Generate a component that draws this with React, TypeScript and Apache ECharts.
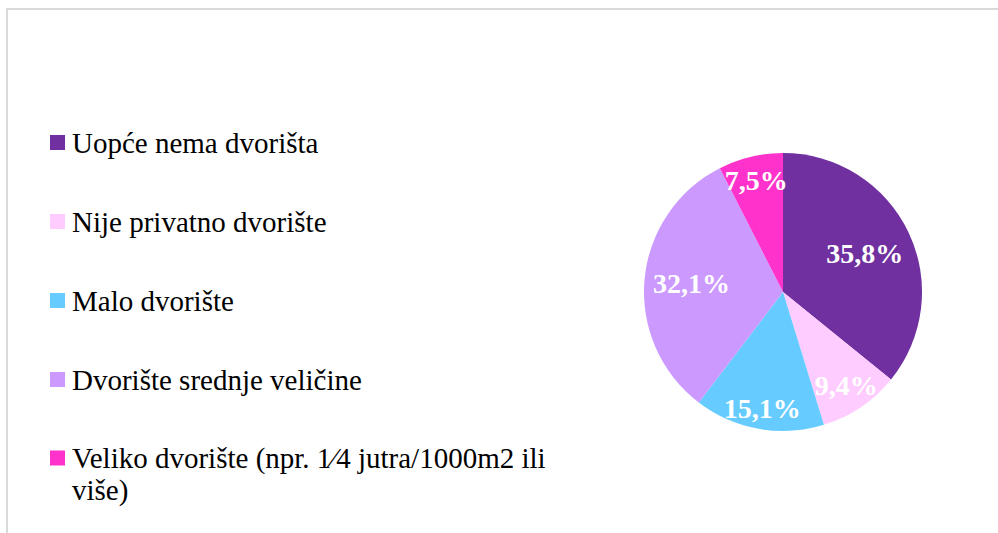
import React, { useEffect, useRef } from 'react';
import * as echarts from 'echarts';

const categories = [
  'Uopće nema dvorišta',
  'Nije privatno dvorište',
  'Malo dvorište',
  'Dvorište srednje veličine',
  'Veliko dvorište (npr. 1⁄4 jutra/1000m2 ili više)',
];
const values = [35.8, 9.4, 15.1, 32.1, 7.5];
const colors = ['#7030A0', '#FFCCFF', '#66CCFF', '#CC99FF', '#FF33CC'];
// radial position of each slice label, as a fraction of the radius
const labelRadius = [0.63, 0.79, 0.83, 0.64, 0.8];

const R = 139;
const CENTER = [783, 292];
const FONT = '"Liberation Serif", "Times New Roman", serif';

const fmt = (p: any) => Number(p.value).toFixed(1).replace('.', ',') + '%';

const legendBase = {
  orient: 'vertical',
  left: 50,
  padding: 0,
  itemGap: -17,
  itemWidth: 15,
  itemHeight: 15,
  icon: 'rect',
  selectedMode: false,
  itemStyle: { borderWidth: 0 },
};
const legendText = {
  fontFamily: FONT,
  fontSize: 29,
  color: '#000000',
  lineHeight: 32,
  width: 530,
  overflow: 'break',
};

export default function App() {
  const ref = useRef<HTMLDivElement>(null);
  useEffect(() => {
    if (!ref.current) return;
    const chart = echarts.init(ref.current, undefined, { renderer: 'svg' });
    const mainSeries = {
      type: 'pie',
      name: 'main',
      center: CENTER,
      radius: [0, R],
      startAngle: 90,
      clockwise: true,
      silent: true,
      emphasis: { disabled: true },
      label: { show: false },
      labelLine: { show: false },
      itemStyle: { borderWidth: 0 },
      data: categories.map((name, i) => ({
        name,
        value: values[i],
        itemStyle: { color: colors[i] },
      })),
    };
    const labelSeries = categories.map((_, i) => ({
      type: 'pie',
      name: 'lbl' + i,
      center: CENTER,
      radius: [(2 * labelRadius[i] - 1) * R, R],
      startAngle: 90,
      clockwise: true,
      silent: true,
      legendHoverLink: false,
      emphasis: { disabled: true },
      itemStyle: { color: 'rgba(0,0,0,0)', borderWidth: 0 },
      labelLine: { show: false },
      label: {
        show: true,
        position: 'inside',
        formatter: fmt,
        color: '#ffffff',
        fontFamily: FONT,
        fontWeight: 'bold',
        fontSize: 28,
      },
      data: categories.map((name, j) => ({
        name,
        value: values[j],
        label: { show: j === i },
      })),
    }));
    const last = categories.length - 1;
    chart.setOption({
      animation: false,
      backgroundColor: '#ffffff',
      graphic: [
        {
          type: 'rect',
          silent: true,
          z: -1,
          shape: { x: 7, y: 9, width: 1200, height: 1000 },
          style: { fill: 'none', stroke: '#d9d9d9', lineWidth: 2 },
        },
      ],
      legend: [
        {
          ...legendBase,
          top: 94.5,
          textStyle: { ...legendText, padding: [32, 0, 32, 2] },
          data: categories.slice(0, last),
        },
        {
          ...legendBase,
          top: 410,
          // an empty first line keeps the first text line level with the marker
          formatter: (name: string) => '\n' + name,
          textStyle: { ...legendText, padding: [0, 0, 0, 2] },
          data: categories.slice(last),
        },
      ],
      series: [mainSeries, ...labelSeries],
    });
    return () => chart.dispose();
  }, []);
  return (
    <div
      ref={ref}
      style={{ position: 'fixed', left: 0, top: 0, width: 998, height: 533, background: '#fff' }}
    />
  );
}
